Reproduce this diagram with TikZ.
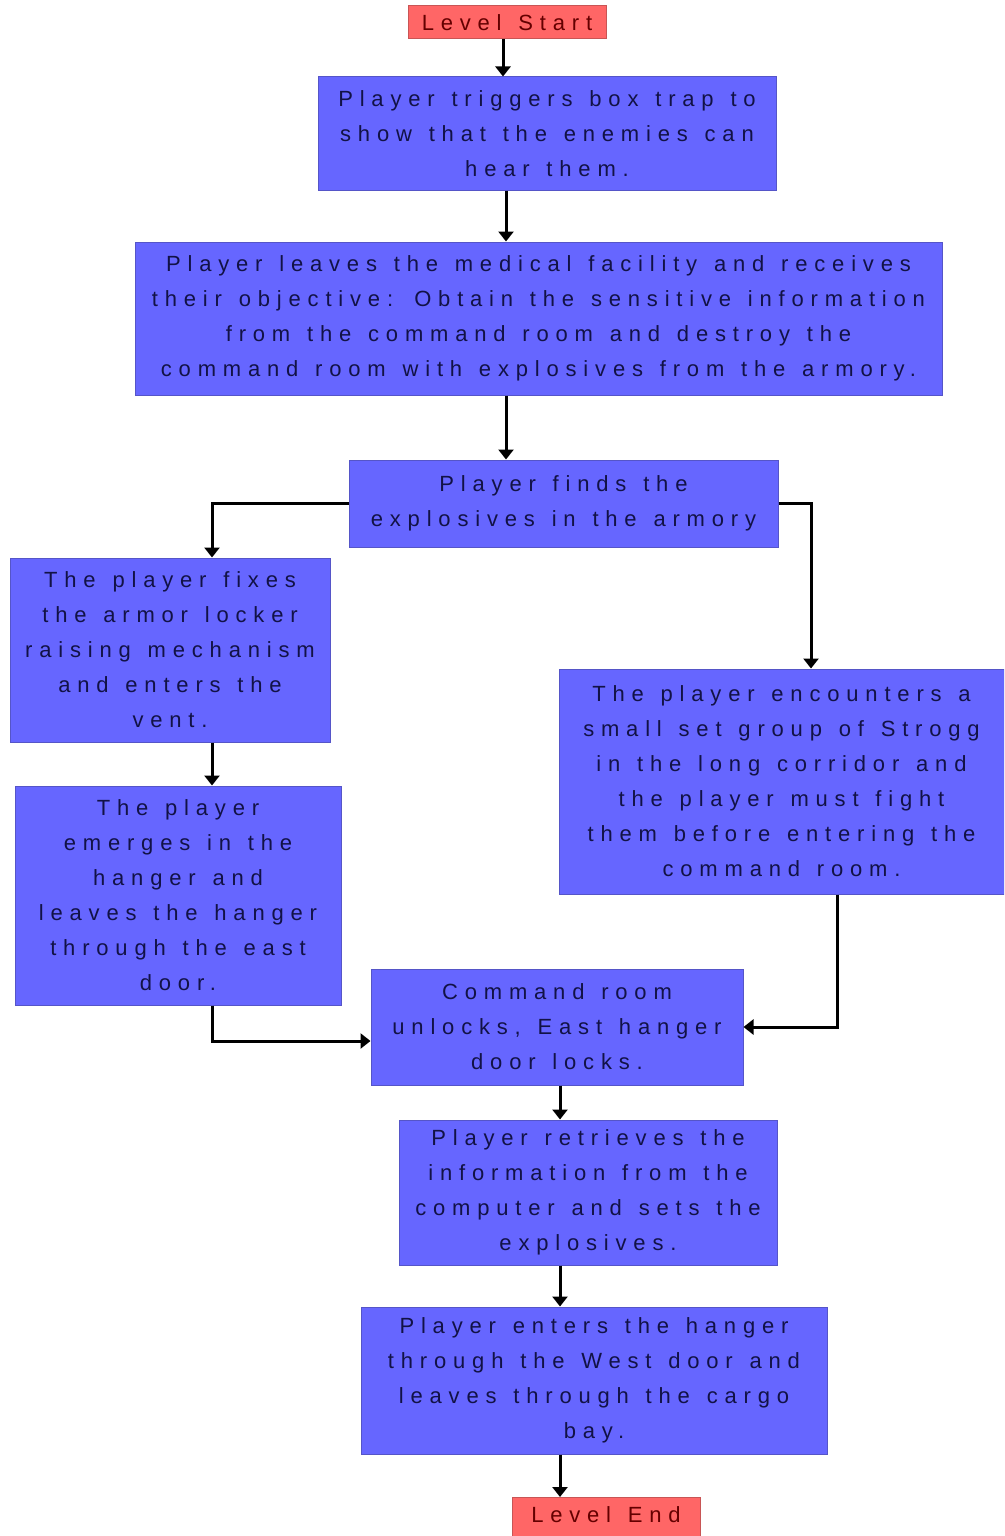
\documentclass[tikz,border=0pt]{standalone}
\usepackage{fontspec}
\setmainfont[LetterSpace=31,WordSpace=1.3]{Liberation Sans}
\usetikzlibrary{arrows.meta}
\definecolor{bfill}{RGB}{102,102,255}
\definecolor{bline}{RGB}{85,85,200}
\definecolor{btext}{RGB}{18,18,70}
\definecolor{rfill}{RGB}{255,102,102}
\definecolor{rline}{RGB}{200,85,85}
\definecolor{rtext}{RGB}{100,0,0}
\tikzset{
  bluebox/.style={draw=bline, fill=bfill, line width=1pt, inner sep=0pt, align=center,
    text=btext, font=\fontsize{22}{35}\selectfont},
  redbox/.style={draw=rline, fill=rfill, line width=1pt, inner sep=0pt, align=center,
    text=rtext, font=\fontsize{22}{35}\selectfont},
  arr/.style={line width=3pt, black, -{Triangle[width=15pt,length=10pt]}},
}
\begin{document}
\begin{tikzpicture}[x=1pt,y=-1pt]
\useasboundingbox (0,0) rectangle (1004,1536);
\clip (0,0) rectangle (1004,1536);
\fill[white] (0,0) rectangle (1004,1536);

\node[redbox, minimum width=198pt, minimum height=33pt] (start) at (507,22.5) {Level Start};
\node[bluebox, minimum width=458pt, minimum height=113pt] (trap) at (547,133.5)
  {Player triggers box trap to\\show that the enemies can\\hear them.};
\node[bluebox, minimum width=807pt, minimum height=153pt] (med) at (538.5,318.5)
  {Player leaves the medical facility and receives\\their objective: Obtain the sensitive information\\from the command room and destroy the\\command room with explosives from the armory.};
\node[bluebox, minimum width=429pt, minimum height=87pt] (arm) at (563.5,503.5)
  {Player finds the\\explosives in the armory};
\node[bluebox, minimum width=320pt, minimum height=184pt] (lock) at (170,650)
  {The player fixes\\the armor locker\\raising mechanism\\and enters the\\vent.};
\node[bluebox, minimum width=445pt, minimum height=225pt] (strogg) at (781.5,781.5)
  {The player encounters a\\small set group of Strogg\\in the long corridor and\\the player must fight\\them before entering the\\command room.};
\node[bluebox, minimum width=326pt, minimum height=219pt] (hang) at (178,895.5)
  {The player\\emerges in the\\hanger and\\leaves the hanger\\through the east\\door.};
\node[bluebox, minimum width=372pt, minimum height=116pt] (cmd) at (557,1027)
  {Command room\\unlocks, East hanger\\door locks.};
\node[bluebox, minimum width=378pt, minimum height=145pt] (ret) at (588,1192.5)
  {Player retrieves the\\information from the\\computer and sets the\\explosives.};
\node[bluebox, minimum width=466pt, minimum height=147pt] (ent) at (594,1380.5)
  {Player enters the hanger\\through the West door and\\leaves through the cargo\\bay.};
\node[redbox, minimum width=188pt, minimum height=44pt, anchor=north] (end) at (606,1497)
  {\raisebox{9pt}{Level End}};

\coordinate (cA) at (503,0);
\coordinate (cB) at (506,0);
\coordinate (cL) at (212,0);
\coordinate (cR) at (811,0);
\coordinate (cS) at (837,0);
\coordinate (cM) at (560,0);

\draw[arr] (start.south -| cA) -- (trap.north -| cA);
\draw[arr] (trap.south -| cB) -- (med.north -| cB);
\draw[arr] (med.south -| cB) -- (arm.north -| cB);
\draw[arr] (arm.west) -| (lock.north -| cL);
\draw[arr] (arm.east) -| (strogg.north -| cR);
\draw[arr] (lock.south -| cL) -- (hang.north -| cL);
\draw[arr] (hang.south -| cL) |- ([yshift=-14pt]cmd.west);
\draw[arr] (strogg.south -| cS) |- (cmd.east);
\draw[arr] (cmd.south -| cM) -- (ret.north -| cM);
\draw[arr] (ret.south -| cM) -- (ent.north -| cM);
\draw[arr] (ent.south -| cM) -- (end.north -| cM);
\end{tikzpicture}
\end{document}
